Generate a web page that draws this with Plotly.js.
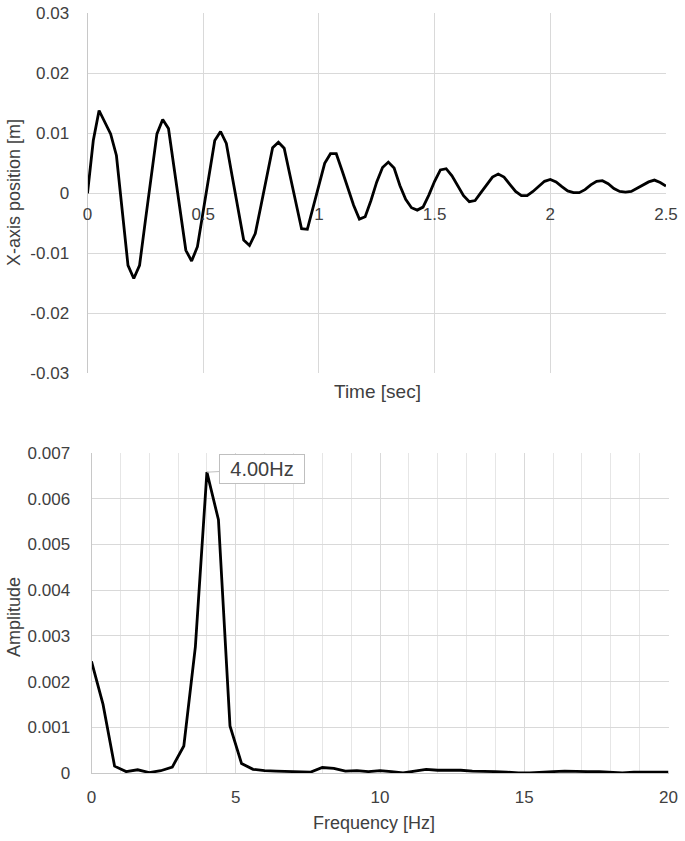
<!DOCTYPE html>
<html>
<head>
<meta charset="utf-8">
<script src="https://cdn.plot.ly/plotly-3.0.1.min.js"></script>
<style>
html,body{margin:0;padding:0;background:#fff;}
#chart{width:685px;height:841px;}
</style>
</head>
<body>
<div id="chart"></div>
<script>
// ---- Data ----
var sampleStep = 0.025; // seconds between samples
var positionValues = [
  0, 0.0088, 0.0138, 0.0118, 0.0099, 0.0063, -0.0029, -0.0120, -0.0142, -0.0120,
  -0.0046, 0.0027, 0.0099, 0.0123, 0.0108, 0.0040, -0.0028, -0.0095, -0.0113, -0.0089,
  -0.0030, 0.0030, 0.0088, 0.0103, 0.0083, 0.0029, -0.0024, -0.0078, -0.0087, -0.0067,
  -0.0020, 0.0028, 0.0076, 0.0085, 0.0075, 0.0030, -0.0015, -0.0059, -0.0060, -0.0023,
  0.0016, 0.0050, 0.0066, 0.0066, 0.0038, 0.0008, -0.0020, -0.0043, -0.0039, -0.0012,
  0.0019, 0.0043, 0.0052, 0.0042, 0.0013, -0.0010, -0.0024, -0.0028, -0.0023, -0.0003,
  0.0020, 0.0039, 0.0041, 0.0029, 0.0012, -0.0004, -0.0014, -0.0012, 0.0001, 0.0014,
  0.0027, 0.0032, 0.0027, 0.0015, 0.0003, -0.0004, -0.0004, 0.0003, 0.0012, 0.0020,
  0.0023, 0.0019, 0.0011, 0.0004, 0.0001, 0.0001, 0.0006, 0.0014, 0.0020, 0.0021,
  0.0016, 0.0008, 0.0003, 0.0002, 0.0003, 0.0008, 0.0014, 0.0019, 0.0022, 0.0018,
  0.0012
];
var freqStep = 0.4; // Hz between spectrum bins
var amplitudeValues = [
  0.00244, 0.00150, 0.00015, 0.00003, 0.00007, 0.00001, 0.00005, 0.00013, 0.00059, 0.00276,
  0.00658, 0.00554, 0.00103, 0.00021, 0.00008, 0.00005, 0.00004, 0.00003, 0.00002, 0.00002,
  0.00012, 0.00010, 0.00004, 0.00005, 0.00003, 0.00005, 0.00003, 0.00000, 0.00004, 0.00008,
  0.00006, 0.00006, 0.00006, 0.00004, 0.00004, 0.00003, 0.00002, 0.00000, 0.00000, 0.00002,
  0.00003, 0.00004, 0.00003, 0.00003, 0.00003, 0.00002, 0.00000, 0.00002, 0.00002, 0.00001,
  0.00002
];
var peakFreq = 4.0;
var peakLabel = "4.00Hz";

var posTickVals = [-0.03, -0.02, -0.01, 0, 0.01, 0.02, 0.03];
var posTickText = ["-0.03", "-0.02", "-0.01", "0", "0.01", "0.02", "0.03"];
var timeTickVals = [0, 0.5, 1, 1.5, 2, 2.5];
var timeTickText = ["0", "0.5", "1", "1.5", "2", "2.5"];
var ampTickVals = [0, 0.001, 0.002, 0.003, 0.004, 0.005, 0.006, 0.007];
var ampTickText = ["0", "0.001", "0.002", "0.003", "0.004", "0.005", "0.006", "0.007"];
var freqTickVals = [0, 5, 10, 15, 20];
var freqTickText = ["0", "5", "10", "15", "20"];

var timeValues = positionValues.map(function(_, i){ return +(i * sampleStep).toFixed(3); });
var freqValues = amplitudeValues.map(function(_, i){ return +(i * freqStep).toFixed(2); });
var peakAmp = amplitudeValues[freqValues.indexOf(peakFreq)];

// ---- Styling ----
var W = 685, H = 841;
var FONT = "Liberation Sans, Arial, sans-serif";
var TXT = "#404040";
var GRID = "#d9d9d9";
var AXL = "#c8c8c8";
function px(x){ return x / W; }
function py(y){ return 1 - y / H; }

var boxTop = {x0: 87.5, x1: 666, y0: 13.3, y1: 373.3};
var boxBot = {x0: 91.5, x1: 668.5, y0: 453, y1: 773};

var traces = [
  {x: timeValues, y: positionValues, type: 'scatter', mode: 'lines',
   line: {color: '#000', width: 2.8}, xaxis: 'x', yaxis: 'y', hoverinfo: 'skip'},
  {x: freqValues, y: amplitudeValues, type: 'scatter', mode: 'lines',
   line: {color: '#000', width: 2.8}, xaxis: 'x2', yaxis: 'y2', hoverinfo: 'skip'}
];

var layout = {
  width: W, height: H,
  margin: {l: 0, r: 0, t: 0, b: 0},
  paper_bgcolor: '#fff', plot_bgcolor: '#fff',
  showlegend: false,
  font: {family: FONT, color: TXT, size: 17},
  xaxis: {
    domain: [px(boxTop.x0), px(boxTop.x1)], range: [0, 2.5],
    anchor: 'free', position: (py(boxTop.y1) + py(boxTop.y0)) / 2,
    tickmode: 'array', tickvals: timeTickVals, ticktext: timeTickText,
    showgrid: true, gridcolor: GRID, gridwidth: 1,
    zeroline: false, showline: false, ticks: '', ticklabelstandoff: 9,
    tickfont: {family: FONT, size: 17, color: TXT}
  },
  yaxis: {
    domain: [py(boxTop.y1), py(boxTop.y0)], range: [-0.03, 0.03], anchor: 'x',
    tickmode: 'array', tickvals: posTickVals, ticktext: posTickText,
    showgrid: true, gridcolor: GRID, gridwidth: 1,
    zeroline: true, zerolinecolor: GRID, zerolinewidth: 1,
    showline: true, linecolor: AXL, linewidth: 1, ticks: '', ticklabelstandoff: 14,
    tickfont: {family: FONT, size: 17, color: TXT}
  },
  xaxis2: {
    domain: [px(boxBot.x0), px(boxBot.x1)], range: [0, 20], anchor: 'y2',
    tickmode: 'array', tickvals: freqTickVals, ticktext: freqTickText,
    showgrid: true, gridcolor: GRID, gridwidth: 1,
    minor: {dtick: 1, showgrid: true, gridcolor: '#e6e6e6', gridwidth: 1},
    zeroline: false, showline: true, linecolor: AXL, linewidth: 1,
    ticks: '', ticklabelstandoff: 9,
    tickfont: {family: FONT, size: 17, color: TXT}
  },
  yaxis2: {
    domain: [py(boxBot.y1), py(boxBot.y0)], range: [0, 0.007], anchor: 'x2',
    tickmode: 'array', tickvals: ampTickVals, ticktext: ampTickText,
    showgrid: true, gridcolor: GRID, gridwidth: 1,
    zeroline: false, showline: true, linecolor: AXL, linewidth: 1,
    ticks: '', ticklabelstandoff: 17,
    tickfont: {family: FONT, size: 17, color: TXT}
  },
  annotations: [
    {xref: 'paper', yref: 'paper', x: px(377), y: py(392), text: 'Time [sec]',
     showarrow: false, font: {family: FONT, size: 19, color: TXT}, xanchor: 'center', yanchor: 'middle'},
    {xref: 'paper', yref: 'paper', x: px(14), y: py(193), text: 'X-axis position [m]', textangle: -90,
     showarrow: false, font: {family: FONT, size: 18, color: TXT}, xanchor: 'center', yanchor: 'middle'},
    {xref: 'paper', yref: 'paper', x: px(374), y: py(823), text: 'Frequency [Hz]',
     showarrow: false, font: {family: FONT, size: 18, color: TXT}, xanchor: 'center', yanchor: 'middle'},
    {xref: 'paper', yref: 'paper', x: px(14), y: py(617), text: 'Amplitude', textangle: -90,
     showarrow: false, font: {family: FONT, size: 18, color: TXT}, xanchor: 'center', yanchor: 'middle'},
    {xref: 'x2', yref: 'y2', x: peakFreq, y: peakAmp, text: peakLabel,
     showarrow: true, arrowhead: 0, arrowwidth: 1, arrowcolor: '#bfbfbf', standoff: 0,
     ax: 55, ay: -3, width: 78, height: 22, align: 'center',
     bgcolor: '#fff', bordercolor: '#bfbfbf', borderwidth: 1, borderpad: 3,
     font: {family: FONT, size: 20, color: TXT}}
  ]
};

Plotly.newPlot('chart', traces, layout, {displayModeBar: false, staticPlot: true});
</script>
</body>
</html>
